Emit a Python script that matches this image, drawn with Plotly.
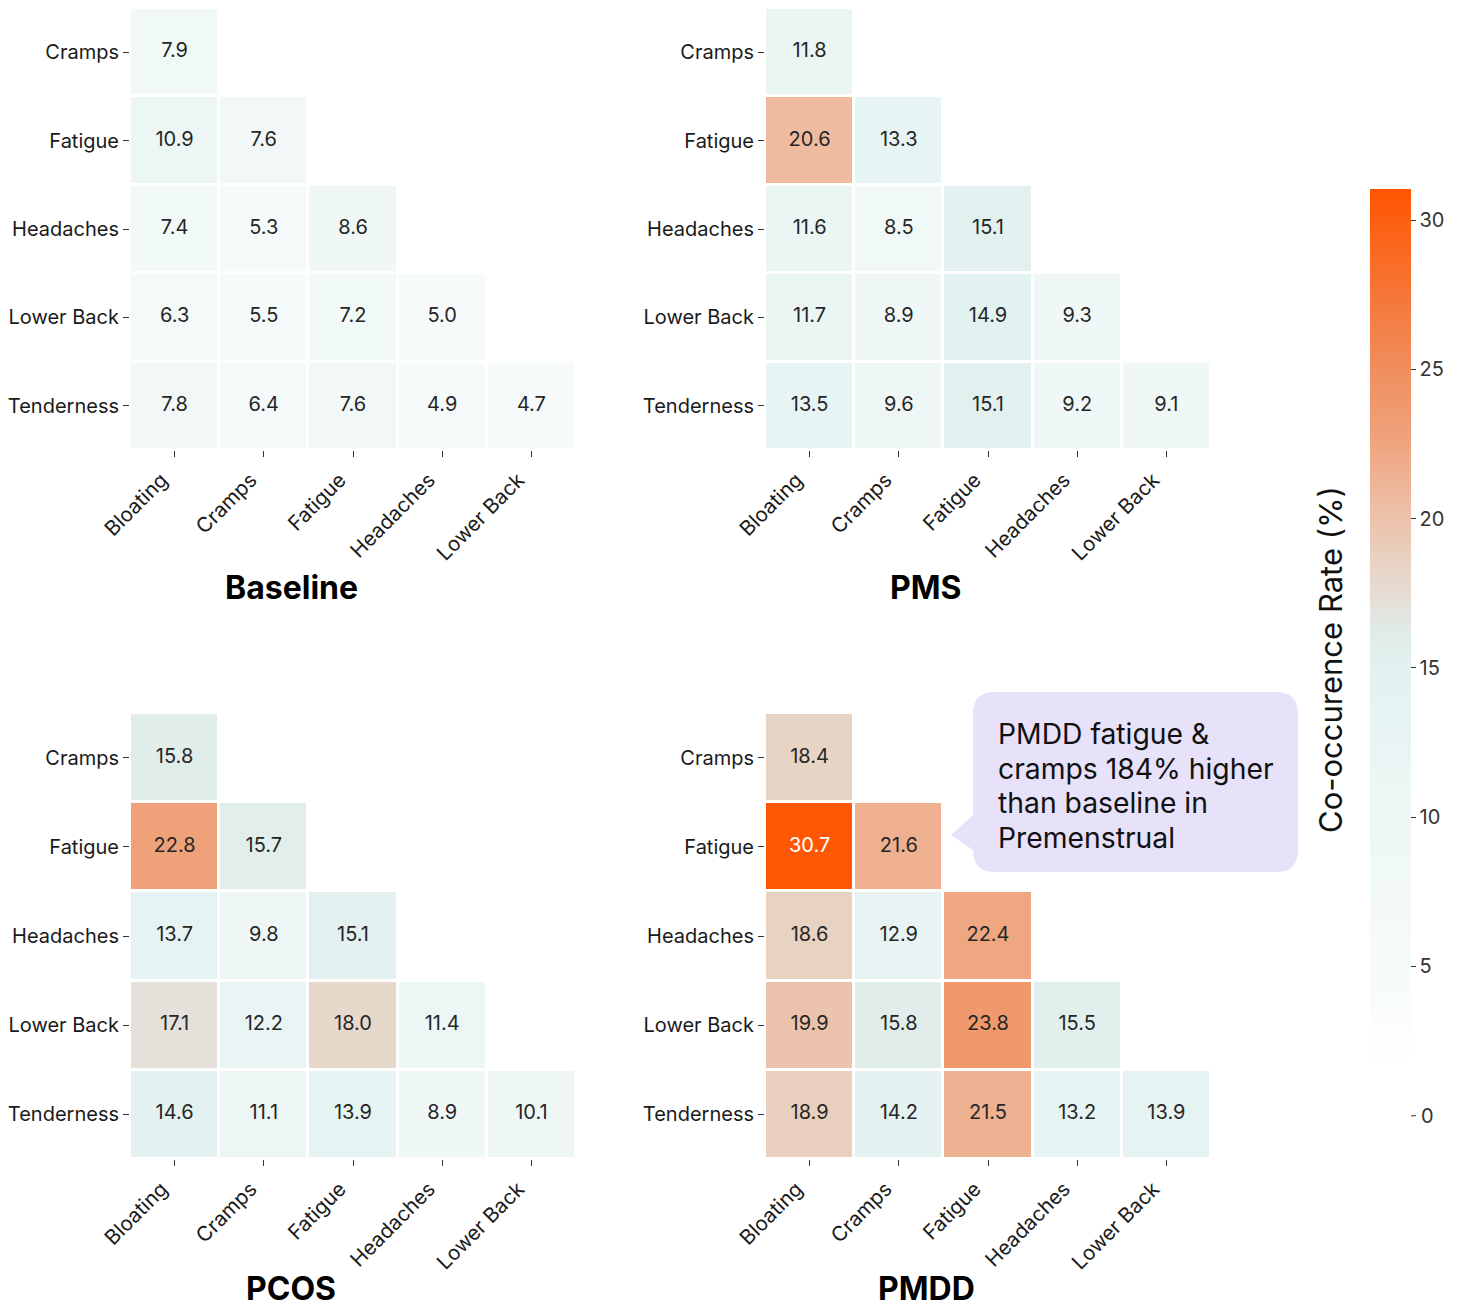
import plotly.graph_objects as go

# the page body adds an 8px margin; the figure is sized/positioned to compensate
OFF = 8
W, H = 1464 - 2 * OFF, 1310 - OFF

rows = ["Cramps", "Fatigue", "Headaches", "Lower Back", "Tenderness"]
cols = ["Bloating", "Cramps", "Fatigue", "Headaches", "Lower Back"]

baseline = [
    [7.9, None, None, None, None],
    [10.9, 7.6, None, None, None],
    [7.4, 5.3, 8.6, None, None],
    [6.3, 5.5, 7.2, 5.0, None],
    [7.8, 6.4, 7.6, 4.9, 4.7],
]
pms = [
    [11.8, None, None, None, None],
    [20.6, 13.3, None, None, None],
    [11.6, 8.5, 15.1, None, None],
    [11.7, 8.9, 14.9, 9.3, None],
    [13.5, 9.6, 15.1, 9.2, 9.1],
]
pcos = [
    [15.8, None, None, None, None],
    [22.8, 15.7, None, None, None],
    [13.7, 9.8, 15.1, None, None],
    [17.1, 12.2, 18.0, 11.4, None],
    [14.6, 11.1, 13.9, 8.9, 10.1],
]
pmdd = [
    [18.4, None, None, None, None],
    [30.7, 21.6, None, None, None],
    [18.6, 12.9, 22.4, None, None],
    [19.9, 15.8, 23.8, 15.5, None],
    [18.9, 14.2, 21.5, 13.2, 13.9],
]
panel_titles = ["Baseline", "PMS", "PCOS", "PMDD"]
panels = [baseline, pms, pcos, pmdd]

note_lines = ["PMDD fatigue &", "cramps 184% higher", "than baseline in", "Premenstrual"]

cbar_ticks = [5, 10, 15, 20, 25, 30]
ZMIN, ZMAX = 1.6, 31.04

scale_vals = [1.6, 5, 10, 15, 16.2, 17.1, 18.6, 20.6, 22.8, 25, 31.04]
scale_cols = ["#ffffff", "#f6fafb", "#eef7f6", "#e2f2f1", "#e0ebe8", "#e5e0da",
              "#e8d2c2", "#eebba1", "#efa27a", "#f08e5e", "#ff5500"]
colorscale = [[(v - ZMIN) / (ZMAX - ZMIN), c] for v, c in zip(scale_vals, scale_cols)]

FONT = "Inter, Roboto, sans-serif"
XTICK_SIZE = 20.5
YTICK_SIZE = 20

def px_x(x):
    return min(1.0, max(0.0, (x - OFF) / W))

def px_y(y):
    return min(1.0, max(0.0, 1 - (y - OFF) / H))

# panel domains in pixels: (x0, x1, ytop, ybottom)
doms = [
    (130, 576, 5, 450),
    (765, 1211, 5, 450),
    (130, 576, 713, 1159),
    (765, 1211, 713, 1159),
]

fig = go.Figure()
layout_axes = {}
for i, (z, (x0, x1, yt, yb)) in enumerate(zip(panels, doms)):
    n = i + 1
    xa = "x" if n == 1 else f"x{n}"
    ya = "y" if n == 1 else f"y{n}"
    fig.add_trace(go.Heatmap(
        z=z, x=cols, y=rows, coloraxis="coloraxis",
        xgap=3, ygap=3, hoverongaps=False,
        xaxis=xa, yaxis=ya,
    ))
    tx, ty, tt, tc = [], [], [], []
    for r, row in enumerate(z):
        for c, v in enumerate(row):
            if v is None:
                continue
            tx.append(cols[c]); ty.append(rows[r]); tt.append(f"{v:.1f}")
            tc.append("#ffffff" if v > 28 else "#262626")
    fig.add_trace(go.Scatter(
        x=tx, y=ty, text=tt, mode="text",
        textfont=dict(family=FONT, size=20, color=tc),
        xaxis=xa, yaxis=ya, showlegend=False, hoverinfo="skip",
    ))
    xkey = "xaxis" if n == 1 else f"xaxis{n}"
    ykey = "yaxis" if n == 1 else f"yaxis{n}"
    layout_axes[xkey] = dict(
        domain=[px_x(x0), px_x(x1)], anchor=ya, automargin=False,
        type="category", categoryorder="array", categoryarray=cols,
        range=[-0.5, 4.5], showgrid=False, zeroline=False, showline=False,
        ticks="outside", ticklen=6, tickwidth=1.2, tickcolor="#333",
        tickangle=-45, ticklabelshift=-13, ticklabelstandoff=3,
        tickfont=dict(family=FONT, size=XTICK_SIZE, color="#1a1a1a"),
    )
    layout_axes[ykey] = dict(
        domain=[px_y(yb), px_y(yt)], anchor=xa, automargin=False,
        type="category", categoryorder="array", categoryarray=rows,
        range=[4.5, -0.5], showgrid=False, zeroline=False, showline=False,
        ticks="outside", ticklen=6, tickwidth=1.2, tickcolor="#333",
        tickfont=dict(family=FONT, size=YTICK_SIZE, color="#1a1a1a"),
    )

cb_top, cb_bot = 189, 1068
cb_len = (cb_bot - cb_top) / H
cb_yc = px_y((cb_top + cb_bot) / 2)

fig.update_layout(
    width=W, height=H, autosize=False,
    margin=dict(l=0, r=0, t=0, b=0, pad=0, autoexpand=False),
    paper_bgcolor="white", plot_bgcolor="white",
    font=dict(family=FONT),
    showlegend=False,
    coloraxis=dict(
        colorscale=colorscale, cmin=ZMIN, cmax=ZMAX,
        colorbar=dict(
            x=px_x(1370), xanchor="left", xpad=0,
            y=cb_yc, yanchor="middle", ypad=0,
            len=cb_len, lenmode="fraction", thickness=41, thicknessmode="pixels",
            outlinewidth=0, tickvals=cbar_ticks,
            ticks="outside", ticklen=5, tickwidth=1, tickcolor="#333",
            tickfont=dict(family=FONT, size=20, color="#333"),
        ),
    ),
    **layout_axes,
)

# panel titles
for i, (title, (x0, x1, yt, yb)) in enumerate(zip(panel_titles, doms)):
    cx = (x0 - 130 + x1) / 2
    if i < 2:
        ty_, yanc = px_y(yb + 137), "middle"
    else:
        ty_, yanc = 0.0, "bottom"
    fig.add_annotation(
        text=f"<b>{title}</b>", x=px_x(cx + 3), y=ty_,
        xref="paper", yref="paper", showarrow=False,
        xanchor="center", yanchor=yanc,
        font=dict(family=FONT, size=32, color="#000"),
    )

# colorbar title
fig.add_annotation(
    text="Co-occurence Rate (%)", x=px_x(1330), y=px_y(660),
    xref="paper", yref="paper", showarrow=False, textangle=-90,
    xanchor="center", yanchor="middle",
    font=dict(family=FONT, size=31, color="#111"),
)

# "0" tick lying below the colorbar (derived from the colour scale)
zero_px = cb_bot + (ZMIN - 0) / (ZMAX - ZMIN) * (cb_bot - cb_top)
fig.add_shape(type="line", xref="paper", yref="paper",
              x0=px_x(1411), x1=px_x(1416), y0=px_y(zero_px), y1=px_y(zero_px),
              line=dict(color="#333", width=1))
fig.add_annotation(
    text="0", x=px_x(1419), y=px_y(zero_px), xref="paper", yref="paper",
    showarrow=False, xanchor="left", yanchor="middle",
    font=dict(family=FONT, size=20, color="#333"),
)

# speech bubble
def bubble_path(l, t, r, b, rad, tip):
    def P(x, y):
        return f"{px_x(x)},{px_y(y)}"
    (bx, by0, by1, tx, ty) = tip
    d = f"M {P(l + rad, t)} L {P(r - rad, t)} Q {P(r, t)} {P(r, t + rad)} "
    d += f"L {P(r, b - rad)} Q {P(r, b)} {P(r - rad, b)} "
    d += f"L {P(l + rad, b)} Q {P(l, b)} {P(l, b - rad)} "
    d += f"L {P(l, by1)} L {P(tx, ty)} L {P(l, by0)} "
    d += f"L {P(l, t + rad)} Q {P(l, t)} {P(l + rad, t)} Z"
    return d

fig.add_shape(
    type="path", xref="paper", yref="paper",
    path=bubble_path(973, 692, 1298, 872, 22, (973, 815, 850, 951, 835)),
    fillcolor="#e7e1f9", line=dict(width=0), layer="above",
)
for k, line in enumerate(note_lines):
    fig.add_annotation(
        text=line, x=px_x(996), y=px_y(734 + k * 34.7),
        xref="paper", yref="paper",
        showarrow=False, xanchor="left", yanchor="middle", align="left",
        font=dict(family=FONT, size=28.3, color="#111"),
    )

fig.write_html("out.html")
